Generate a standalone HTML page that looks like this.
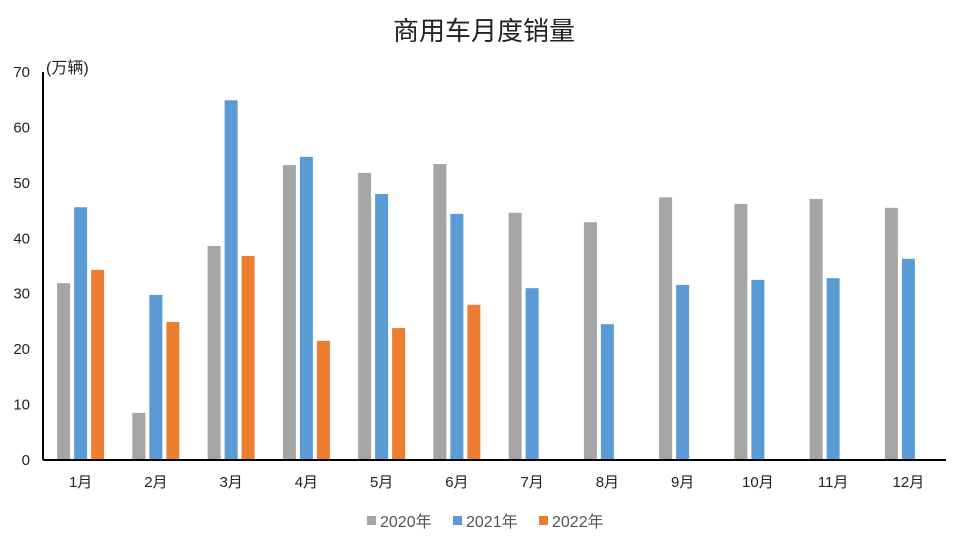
<!DOCTYPE html>
<html><head><meta charset="utf-8"><style>
body{margin:0;background:#fff;}
svg text{font-family:"Liberation Sans","Noto Sans CJK SC",sans-serif;}
</style></head><body>
<svg width="954" height="547" xmlns="http://www.w3.org/2000/svg">
<text x="484" y="40" text-anchor="middle" font-size="26" fill="#222">商用车月度销量</text>
<text x="46" y="73" font-size="16" fill="#222">(万辆)</text>
<g id="yticks"></g><g id="bars"></g><g id="xlabels"></g>
<line x1="43" y1="72" x2="43" y2="460" stroke="#000" stroke-width="2"/>
<line x1="43" y1="460" x2="946" y2="460" stroke="#000" stroke-width="2"/>
<g>
<rect x="367" y="516" width="9" height="9" fill="#a5a5a5"/>
<text x="380" y="527" font-size="16" fill="#555">2020年</text>
<rect x="453" y="516" width="9" height="9" fill="#5b9bd5"/>
<text x="466" y="527" font-size="16" fill="#555">2021年</text>
<rect x="539" y="516" width="9" height="9" fill="#ed7d31"/>
<text x="552" y="527" font-size="16" fill="#555">2022年</text>
</g>
</svg>
<script>
const categories=["1月","2月","3月","4月","5月","6月","7月","8月","9月","10月","11月","12月"];
const s2020=[31.9,8.5,38.6,53.2,51.8,53.4,44.6,42.9,47.4,46.2,47.1,45.5];
const s2021=[45.6,29.8,64.9,54.7,48.0,44.4,31.0,24.5,31.6,32.5,32.8,36.3];
const s2022=[34.3,24.9,36.8,21.5,23.8,28.0];
const yTicks=[0,10,20,30,40,50,60,70];
const NS="http://www.w3.org/2000/svg";
const x0=43,x1=946,y0=460,yTop=72,yMax=70;
const band=(x1-x0)/categories.length;
const y=v=>y0-(v/yMax)*(y0-yTop);
const cx=i=>x0+band*(i+0.5);
const yt=document.getElementById('yticks');
yTicks.forEach(t=>{
 const e=document.createElementNS(NS,'text');
 e.setAttribute('x',30);e.setAttribute('y',y(t)+5);e.setAttribute('text-anchor','end');
 e.setAttribute('font-size','15');e.setAttribute('fill','#222');e.textContent=t;
 
 
 yt.appendChild(e);
});
const bars=document.getElementById('bars');
const series=[[s2020,'#a5a5a5','2020'],[s2021,'#5b9bd5','2021'],[s2022,'#ed7d31','2022']];
const bw=13,gap=17;
series.forEach(([arr,col,name],k)=>{
 arr.forEach((v,i)=>{
  const r=document.createElementNS(NS,'rect');
  r.setAttribute('x',cx(i)+(k-1)*gap-bw/2);r.setAttribute('y',y(v));
  r.setAttribute('width',bw);r.setAttribute('height',y0-y(v));r.setAttribute('fill',col);
  
  
  bars.appendChild(r);
 });
});
const xl=document.getElementById('xlabels');
categories.forEach((c,i)=>{
 const e=document.createElementNS(NS,'text');
 e.setAttribute('x',cx(i));e.setAttribute('y',487);e.setAttribute('text-anchor','middle');
 e.setAttribute('font-size','15');e.setAttribute('fill','#222');e.textContent=c;
 
 
 xl.appendChild(e);
});
</script>
</body></html>
